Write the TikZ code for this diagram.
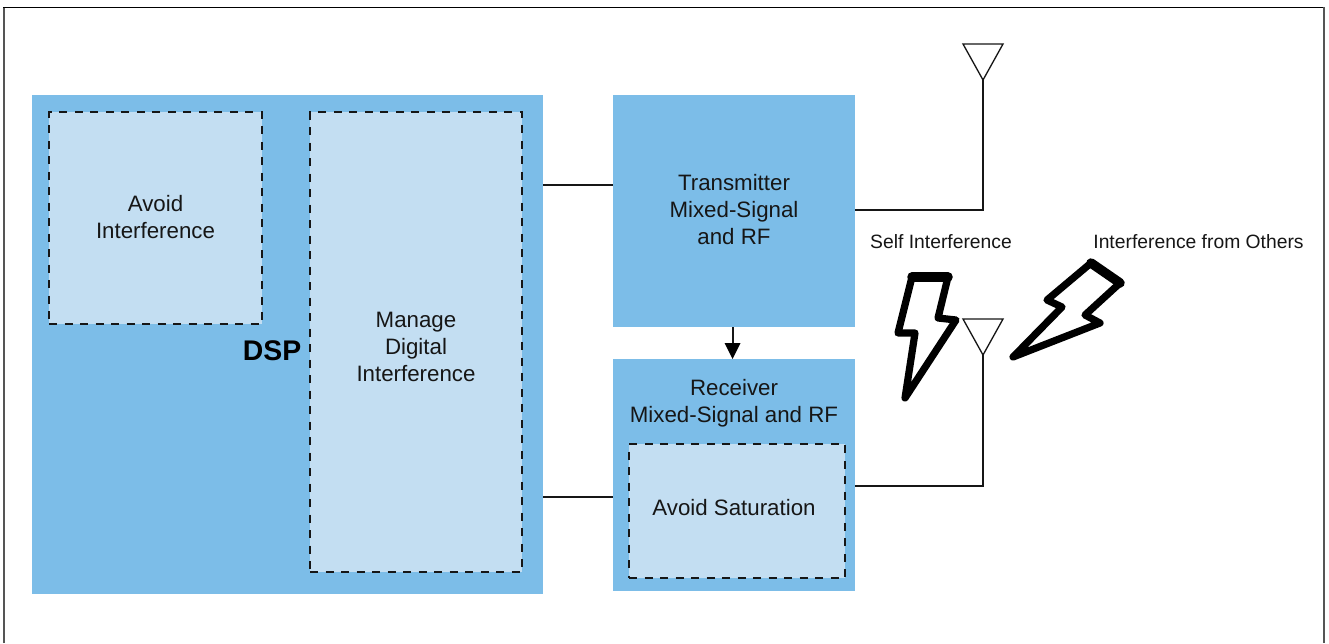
\documentclass[tikz,border=0pt]{standalone}
\usepackage{fontspec}
\setmainfont{Liberation Sans}
\definecolor{bluebox}{HTML}{7CBDE8}
\definecolor{lightbox}{HTML}{C3DEF2}
\definecolor{inktext}{HTML}{161616}
\definecolor{framegray}{HTML}{555555}
\tikzset{
  bluefill/.style={fill=bluebox,draw=none,inner sep=0pt},
  dashbox/.style={fill=lightbox,draw=inktext,line width=2.4pt,dash pattern=on 8pt off 7.5pt,inner sep=0pt},
  boxtext/.style={text=inktext,inner sep=0pt,align=center,font=\fontsize{22.3}{27}\selectfont},
  wire/.style={draw=inktext,line width=2pt},
  antenna/.style={draw=inktext,line width=1.3pt,fill=white,line join=miter},
  bolt/.style={draw=black,line width=7.2pt,fill=white,line join=round,line cap=round},
  boltedge/.style={draw=black,line width=9.5pt,line cap=round},
  caption/.style={text=inktext,inner sep=0pt,font=\fontsize{19.3}{22}\selectfont}
}
\begin{document}
\begin{tikzpicture}[x=1pt,y=-1pt]
\useasboundingbox (0,0) rectangle (1329,643);
\fill[white] (0,0) rectangle (1329,643);
\draw[draw=framegray,line width=2pt] (4,643) -- (4,7.5);
\draw[draw=black,line width=1.5pt] (3,7.5) -- (1325,7.5);
\draw[draw=framegray,line width=2pt] (1324,7) -- (1324,643);
% blocks
\node[bluefill,minimum width=511pt,minimum height=499pt] (dsp) at (287.5,344.5) {};
\node[bluefill,minimum width=242pt,minimum height=232pt] (tx) at (734,211) {};
\node[bluefill,minimum width=242pt,minimum height=232pt] (rx) at (734,475) {};
\node[dashbox,minimum width=213pt,minimum height=212pt] (avoid) at (155.5,218) {};
\node[dashbox,minimum width=212pt,minimum height=460pt] (manage) at (416,342) {};
\node[dashbox,minimum width=216pt,minimum height=134pt] (sat) at (737,511) {};
% texts
\node[boxtext] (txlabel) at (734,210) {Transmitter\\Mixed-Signal\\and RF};
\node[boxtext] (avoidlabel) at (155.5,217) {Avoid\\Interference};
\node[boxtext] (managelabel) at (416,347) {Manage\\Digital\\Interference};
\node[boxtext] (satlabel) at (734,508) {Avoid Saturation};
\node[boxtext] (rxlabel) at (734,403) {Receiver\\Mixed-Signal and RF};
\node[text=black,inner sep=0pt,font=\bfseries\fontsize{28.4}{32}\selectfont] (dsplabel) at (272,351) {DSP};
% captions
\node[caption] (self) at (941,242) {Self Interference};
\node[caption] (others) at (1198.5,242) {Interference from Others};
% connector anchors
\coordinate (dsptop) at (dsp.east |- 0,185);
\coordinate (txleft) at (tx.west |- 0,185);
\coordinate (dspbot) at (dsp.east |- 0,497);
\coordinate (rxleft) at (rx.west |- 0,497);
\coordinate (tipA) at (983,80);
\coordinate (tipB) at (983,355);
\coordinate (txout) at (tx.east |- 0,210);
\coordinate (rxout) at (rx.east |- 0,486);
\coordinate (txdown) at (732.5,327);
\coordinate (rxtop) at (732.5,359);
% connectors
\draw[wire] (dsptop) -- (txleft);
\draw[wire] (dspbot) -- (rxleft);
\draw[wire] (txout) -| (tipA);
\draw[wire] (rxout) -| (tipB);
\draw[wire] (txdown) -- ++(0,17);
\fill[black] (724.5,343) -- (740.5,343) -- (rxtop) -- cycle;
% antennas
\draw[antenna] (tipA) -- ++(-20,-36) -- ++(40,0) -- cycle;
\draw[antenna] (tipB) -- ++(-20,-36) -- ++(40,0) -- cycle;
% bolts
\draw[bolt] (912,277) -- (948,277) -- (938,318) -- (956,320) -- (905,398) -- (915,333) -- (898,333) -- cycle;
\draw[boltedge] (912,277) -- (948,277);
\draw[bolt] (1091,263) -- (1120,283) -- (1085,315) -- (1100,323) -- (1013,357) -- (1062,307) -- (1047,300) -- cycle;
\draw[boltedge] (1091,263) -- (1120,283);
\end{tikzpicture}
\end{document}
